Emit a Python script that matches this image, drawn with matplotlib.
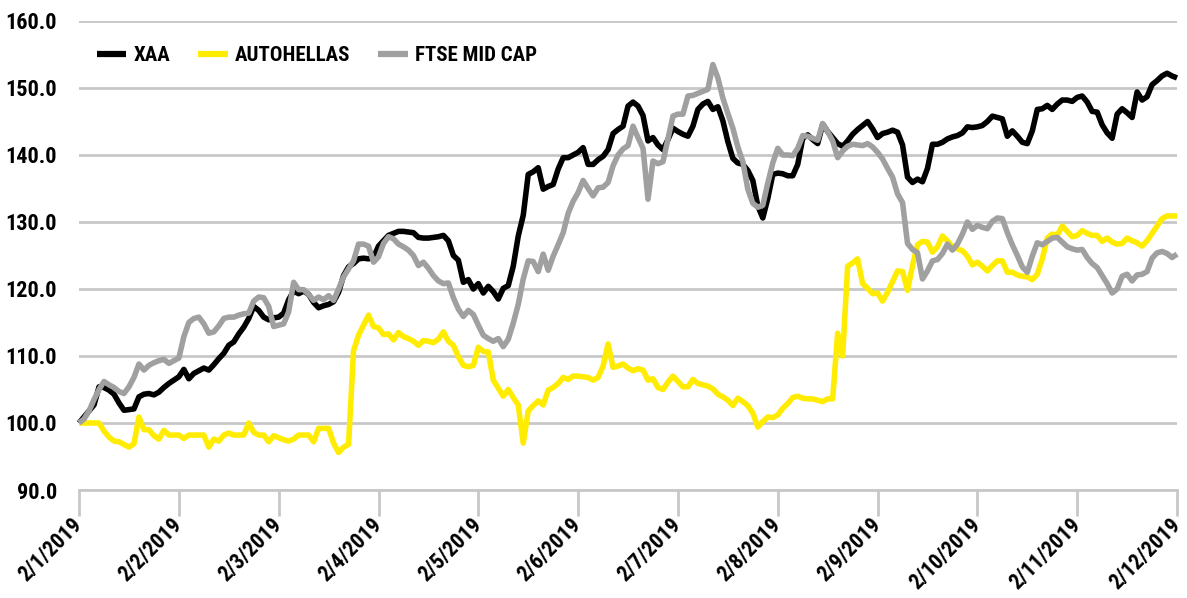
import numpy as np
import matplotlib
matplotlib.use("Agg")
import matplotlib.pyplot as plt
from matplotlib import font_manager as fm
from matplotlib.ticker import FuncFormatter

# ---------------- data ----------------
month_labels = ["2/1/2019", "2/2/2019", "2/3/2019", "2/4/2019", "2/5/2019", "2/6/2019",
                "2/7/2019", "2/8/2019", "2/9/2019", "2/10/2019", "2/11/2019", "2/12/2019"]
samples_per_month = 20  # values are read every 1/20 of a month

xaa = [
    100.0, 100.9, 101.8, 102.7, 105.4, 105.3, 104.9, 104.3, 103.0, 101.9,
    102.0, 102.1, 103.9, 104.3, 104.4, 104.2, 104.6, 105.3, 105.9, 106.4,
    106.9, 108.0, 106.6, 107.4, 107.8, 108.2, 107.9, 108.7, 109.6, 110.4,
    111.6, 112.1, 113.3, 114.3, 115.6, 117.4, 116.8, 115.8, 115.4, 115.7,
    115.8, 116.4, 118.4, 119.7, 119.3, 119.7, 119.2, 118.0, 117.2, 117.5,
    117.7, 118.1, 119.5, 122.0, 123.3, 123.8, 124.5, 124.6, 124.5, 124.7,
    126.4, 127.2, 128.0, 128.3, 128.6, 128.6, 128.5, 128.4, 127.7, 127.6,
    127.6, 127.7, 127.8, 128.0, 127.2, 125.0, 124.3, 121.0, 121.4, 120.0,
    120.8, 119.4, 120.4, 119.6, 118.5, 120.1, 120.5, 123.4, 127.9, 131.0,
    137.1, 137.5, 138.1, 134.9, 135.3, 135.6, 137.9, 139.6, 139.6, 140.0,
    140.4, 141.1, 138.6, 138.6, 139.3, 139.8, 140.8, 143.2, 143.8, 144.3,
    147.3, 147.9, 147.3, 145.9, 142.1, 142.6, 141.5, 140.8, 142.3, 144.0,
    143.5, 143.1, 142.8, 144.3, 146.8, 147.6, 148.0, 146.8, 147.2, 145.1,
    142.0, 139.5, 138.8, 138.6, 137.7, 136.2, 132.4, 130.6, 133.5, 137.1,
    137.3, 137.2, 136.9, 136.9, 138.6, 142.5, 143.0, 142.3, 141.7, 144.6,
    143.5, 142.6, 141.7, 141.3, 142.1, 143.1, 143.8, 144.4, 145.0, 143.9,
    142.6, 143.2, 143.4, 143.7, 143.4, 141.5, 136.7, 135.9, 136.4, 136.0,
    138.0, 141.6, 141.6, 141.9, 142.4, 142.7, 142.9, 143.3, 144.2, 144.1,
    144.2, 144.4, 145.0, 145.8, 145.6, 145.4, 142.8, 143.6, 142.8, 141.9,
    141.7, 143.6, 146.8, 146.9, 147.4, 146.8, 147.6, 148.2, 148.2, 148.0,
    148.6, 148.8, 147.9, 146.5, 146.4, 144.5, 143.3, 142.5, 146.1, 146.9,
    146.3, 145.6, 149.4, 148.2, 148.7, 150.5, 151.1, 151.8, 152.2, 151.8,
    151.5,
]

autohellas = [
    100.0, 100.0, 100.0, 100.0, 100.0, 98.8, 97.9, 97.3, 97.2, 96.8,
    96.4, 96.9, 100.9, 99.0, 99.0, 98.1, 97.6, 98.9, 98.2, 98.2,
    98.2, 97.7, 98.2, 98.2, 98.2, 98.2, 96.4, 97.6, 97.3, 98.2,
    98.5, 98.2, 98.2, 98.2, 100.0, 98.6, 98.2, 98.2, 97.2, 98.1,
    97.8, 97.5, 97.3, 97.6, 98.2, 98.2, 98.2, 97.2, 99.2, 99.2,
    99.2, 97.0, 95.6, 96.4, 96.8, 110.8, 113.1, 114.6, 116.1, 114.4,
    114.2, 113.2, 113.3, 112.4, 113.5, 112.9, 112.6, 112.2, 111.6, 112.3,
    112.2, 112.0, 112.5, 113.6, 112.2, 111.6, 109.9, 108.6, 108.4, 108.6,
    111.3, 110.7, 110.6, 106.4, 105.2, 104.0, 105.0, 103.8, 102.7, 97.0,
    101.8, 102.6, 103.3, 102.7, 104.9, 105.3, 105.9, 106.8, 106.5, 107.0,
    107.0, 106.9, 106.8, 106.4, 106.8, 108.5, 111.8, 108.3, 108.5, 108.8,
    108.2, 107.8, 108.1, 107.9, 106.4, 106.6, 105.3, 105.0, 106.1, 107.0,
    106.2, 105.4, 105.4, 106.5, 105.9, 105.7, 105.5, 105.1, 104.3, 103.9,
    103.4, 102.6, 103.7, 103.2, 102.6, 101.5, 99.4, 100.2, 100.9, 100.8,
    101.2, 102.2, 102.9, 103.8, 104.0, 103.7, 103.6, 103.6, 103.4, 103.2,
    103.6, 103.6, 113.4, 110.0, 123.4, 123.9, 124.5, 120.8, 120.1, 119.3,
    119.4, 118.2, 119.5, 121.1, 122.7, 122.6, 119.8, 123.5, 126.6, 127.1,
    127.0, 125.5, 126.3, 127.9, 127.2, 126.3, 126.0, 125.7, 124.9, 123.6,
    124.0, 123.4, 122.7, 123.5, 124.2, 124.2, 122.5, 122.5, 122.1, 121.9,
    121.8, 121.4, 122.2, 124.5, 127.6, 128.2, 128.0, 129.4, 128.6, 127.8,
    128.0, 128.7, 128.3, 128.0, 128.0, 127.1, 127.6, 127.0, 126.7, 126.8,
    127.6, 127.2, 126.9, 126.4, 127.2, 128.3, 129.4, 130.5, 130.9, 130.9,
    130.9,
]

ftse_mid_cap = [
    100.0, 100.6, 101.8, 103.5, 105.0, 106.2, 105.7, 105.3, 104.7, 104.4,
    105.4, 106.8, 108.8, 107.9, 108.6, 109.0, 109.3, 109.5, 108.9, 109.3,
    109.7, 112.9, 115.0, 115.6, 115.8, 114.8, 113.4, 113.6, 114.5, 115.6,
    115.8, 115.8, 116.1, 116.3, 116.4, 118.2, 118.8, 118.7, 117.4, 114.4,
    114.6, 114.8, 116.6, 121.0, 119.9, 119.9, 119.2, 118.3, 118.8, 118.4,
    119.0, 118.3, 120.0, 121.8, 123.0, 124.2, 126.7, 126.7, 126.4, 124.0,
    124.8, 126.8, 127.8, 127.5, 126.7, 126.3, 125.8, 125.0, 123.5, 124.0,
    123.1, 122.0, 121.2, 120.8, 120.9, 118.7, 117.0, 115.9, 116.8, 116.2,
    114.6, 113.1, 112.6, 112.2, 112.6, 111.4, 112.5, 114.9, 117.7, 121.5,
    124.2, 124.1, 122.6, 125.2, 122.8, 124.9, 126.6, 128.4, 131.3, 133.1,
    134.4, 136.2, 135.0, 133.9, 135.1, 135.2, 135.9, 138.4, 140.0, 140.9,
    141.4, 144.3, 142.6, 141.0, 133.4, 139.1, 138.7, 139.0, 142.4, 145.8,
    146.1, 146.1, 148.8, 148.9, 149.2, 149.5, 149.8, 153.5, 151.5, 148.5,
    146.2, 144.0, 141.2, 139.0, 134.9, 132.8, 132.2, 132.5, 135.8, 138.8,
    141.0, 140.0, 140.0, 139.9, 141.0, 142.9, 142.8, 142.5, 142.2, 144.7,
    143.5, 142.1, 139.6, 140.6, 141.3, 141.6, 141.5, 141.4, 141.7, 141.2,
    140.4, 139.4, 138.0, 136.7, 134.2, 132.9, 126.8, 125.9, 125.4, 121.5,
    122.7, 124.2, 124.4, 125.3, 126.7, 125.8, 126.7, 128.2, 130.0, 128.9,
    129.5, 129.2, 129.0, 130.1, 130.6, 130.5, 128.4, 126.6, 125.0, 123.3,
    122.5, 124.9, 126.9, 126.6, 127.1, 127.6, 127.7, 127.0, 126.3, 126.0,
    125.8, 125.9, 124.7, 123.8, 123.2, 122.0, 120.8, 119.4, 120.0, 121.9,
    122.2, 121.2, 122.1, 122.2, 122.6, 124.6, 125.4, 125.6, 125.3, 124.7,
    125.2,
]

series_names = ["XAA", "AUTOHELLAS", "FTSE MID CAP"]
y_ticks = [90, 100, 110, 120, 130, 140, 150, 160]

# ---------------- style ----------------
available = {f.name for f in fm.fontManager.ttflist}
font = "DejaVu Sans"
for fam in ["Liberation Sans Narrow", "Roboto Condensed", "Open Sans Condensed",
            "Liberation Sans", "Open Sans"]:
    if fam in available:
        font = fam
        break
plt.rcParams["font.family"] = [font, "DejaVu Sans"]
plt.rcParams["font.weight"] = "bold"

grid_col = "#c8c8c8"
colors = ["#000000", "#ffec00", "#a0a0a0"]

fig = plt.figure(figsize=(11.87, 5.98), dpi=100)
ax = fig.add_axes([0.0666, 0.1806, 0.925, 0.7843])

x = np.arange(len(xaa)) / samples_per_month
for vals, name, c in zip([xaa, autohellas, ftse_mid_cap], series_names, colors):
    ax.plot(x, vals, color=c, lw=4.0, label=name, solid_joinstyle="round",
            solid_capstyle="butt", clip_on=False)

ax.set_xlim(0, len(month_labels) - 1)
ax.set_ylim(y_ticks[0], y_ticks[-1])
ax.set_yticks(y_ticks)
ax.yaxis.set_major_formatter(FuncFormatter(lambda v, p: f"{v:.1f}"))
ax.yaxis.grid(True, color=grid_col, lw=2)
ax.set_axisbelow(True)
for s in ["left", "right", "top"]:
    ax.spines[s].set_visible(False)
ax.spines["bottom"].set_color(grid_col)
ax.spines["bottom"].set_linewidth(2)
ax.spines["bottom"].set_zorder(0.5)

ax.tick_params(axis="y", length=0, pad=16, labelsize=16)
ax.set_xticks(range(len(month_labels)))
ax.set_xticklabels(month_labels, rotation=45, ha="right", va="center",
                   rotation_mode="anchor")
ax.tick_params(axis="x", length=19, width=2, color=grid_col, direction="out",
               pad=4, labelsize=15.5)
for lab in ax.get_xticklabels() + ax.get_yticklabels():
    lab.set_fontweight("bold")

leg = ax.legend(loc="upper left", bbox_to_anchor=(0.0164, 0.946), ncol=3,
                frameon=False, handlelength=1.4, handletextpad=0.35,
                columnspacing=1.35, borderaxespad=0, borderpad=0,
                prop={"size": 15, "weight": "bold"})
for h in leg.get_lines():
    h.set_linewidth(4.5)

fig.savefig("out.png", dpi=100)
